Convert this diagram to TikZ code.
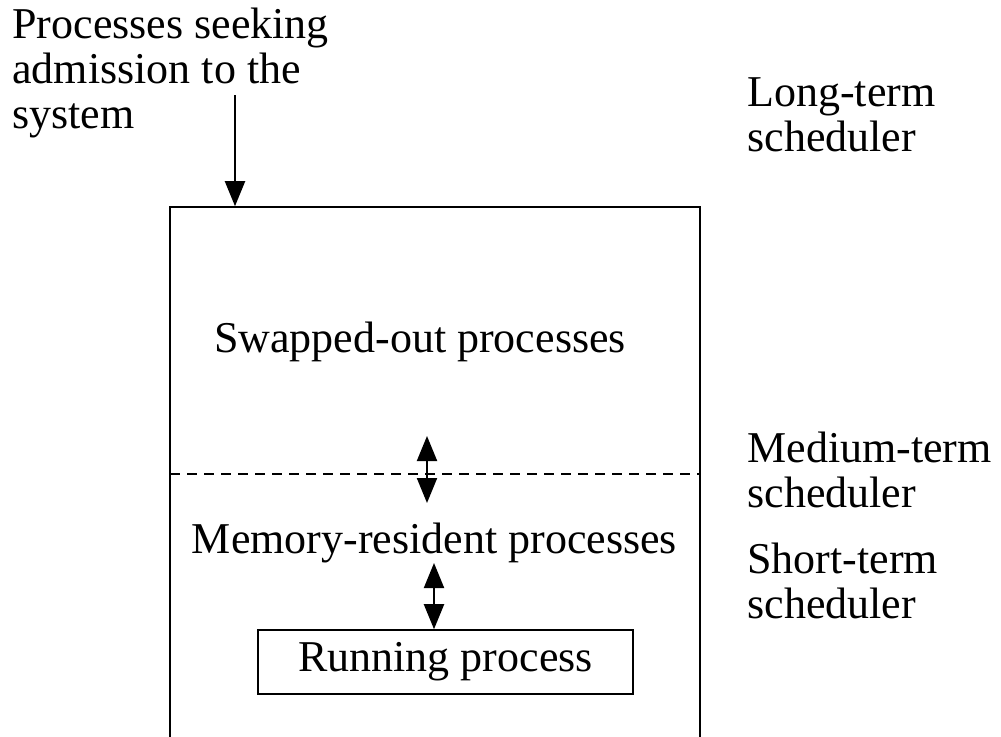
\documentclass[tikz,border=0pt]{standalone}
\usepackage{fontspec}
\setmainfont{Liberation Serif}
\usetikzlibrary{arrows.meta,positioning}

\begin{document}
\begin{tikzpicture}[
    x=0.5pt, y=-0.5pt,
    every node/.style={font=\fontsize{22}{22.5}\selectfont},
    sidetext/.style={align=left, inner sep=0pt, anchor=base west},
    bigbox/.style={draw, line width=0.8pt, minimum width=265pt, minimum height=286.5pt},
    box/.style={draw, line width=0.8pt, minimum width=187.5pt, minimum height=32pt},
    arrow/.style={-{Triangle[length=12.5pt,width=10pt]}, line width=1pt},
    dblarrow/.style={{Triangle[length=12.5pt,width=10pt]}-{Triangle[length=12.5pt,width=10pt]}, line width=1pt},
    dashedline/.style={dash pattern=on 5pt off 3.5pt, line width=0.6pt}
  ]
    \clip (0,0) rectangle (1001,736);

    \node[bigbox] (system) at (435,493.5) {};
    \node[box] (running) at (445.5,662) {Running process};

    \node[inner sep=0pt, anchor=base] (swapped) at (420,352) {Swapped-out processes};
    \node[inner sep=0pt, anchor=base] (resident) at (434.5,553) {Memory-resident processes};

    % base anchor sits on the last line
    \node[sidetext] (seeking) at (12,128) {Processes seeking\\admission to the\\system};
    \node[sidetext] (longterm) at (747,151) {Long-term\\scheduler};
    \node[sidetext] (mediumterm) at (747,507) {Medium-term\\scheduler};
    \node[sidetext] (shortterm) at (747,618) {Short-term\\scheduler};

    \coordinate (admit) at (235,95);
    \coordinate (swapout) at (427,436);
    \coordinate (swapin) at (427,503);
    \coordinate (dispatch) at (434,563);
    \coordinate (split) at (170,474);

    \draw[arrow] (admit) -- (admit |- system.north);
    \draw[dashedline] (split) -- (split -| system.east);
    \draw[dblarrow] (swapout) -- (swapin);
    \draw[dblarrow] (dispatch) -- (dispatch |- running.north);
  \end{tikzpicture}
\end{document}
